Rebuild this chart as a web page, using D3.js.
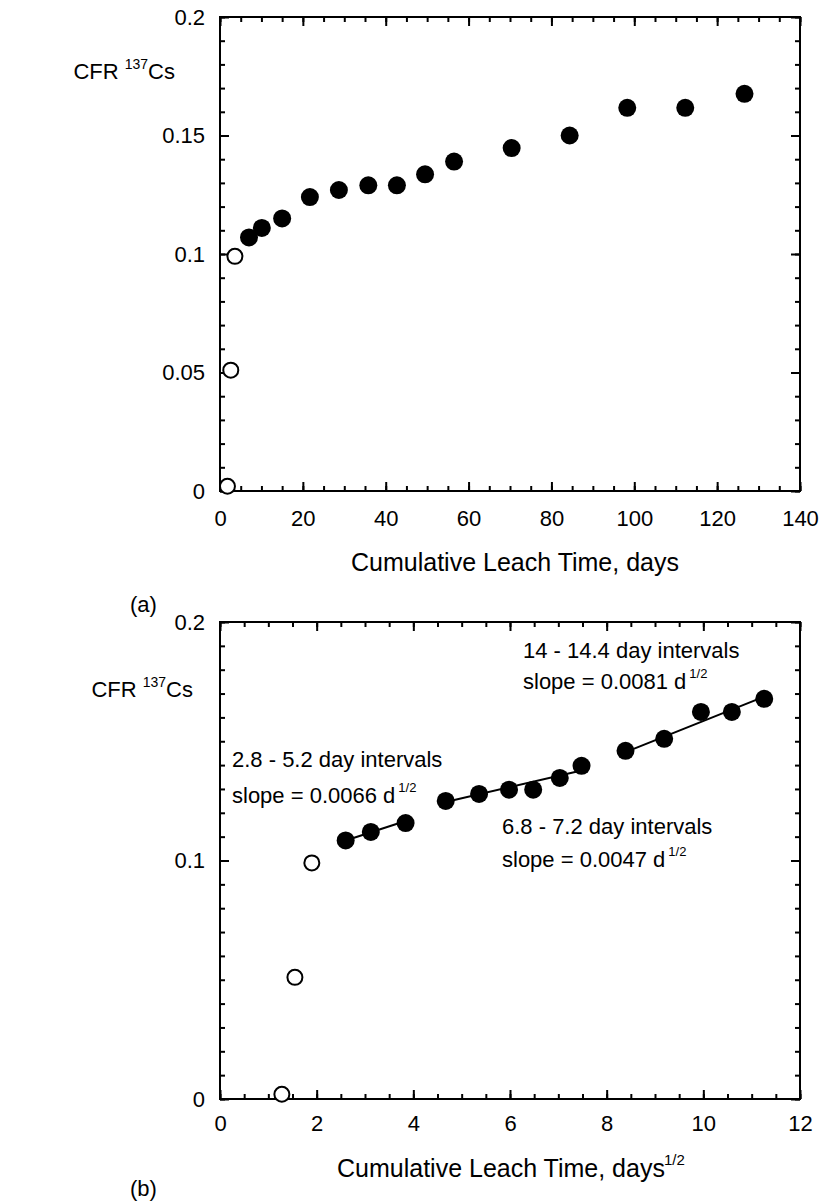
<!DOCTYPE html>
<html>
<head>
<meta charset="utf-8">
<script src="https://cdn.jsdelivr.net/npm/d3@7"></script>
<style>
  html, body { margin: 0; padding: 0; background: #fff; }
  svg { display: block; }
  text { font-family: "Liberation Sans", Arial, sans-serif; fill: #000; }
</style>
</head>
<body>
<div id="chart"></div>
<script>
// (a) CFR vs cumulative leach time, days
const daysOpen = [1.8, 2.6, 3.6];
const cfrOpen = [0.002, 0.051, 0.099];
const daysFilled = [7.0, 10.1, 15.0, 21.7, 28.7, 35.8, 42.7, 49.5, 56.5, 70.4, 84.4, 98.3, 112.3, 126.6];
const cfrFilled = [0.107, 0.111, 0.115, 0.124, 0.127, 0.129, 0.129, 0.1336, 0.139, 0.1447, 0.150, 0.1617, 0.1617, 0.1676];

// (b) CFR vs square root of cumulative leach time, days^1/2
const sqrtOpen = [1.28, 1.55, 1.9];
const sqrtFilled = [2.60, 3.12, 3.84, 4.67, 5.36, 5.98, 6.48, 7.03, 7.48, 8.39, 9.19, 9.95, 10.59, 11.26];
const cfrFilledB = [0.1084, 0.112, 0.1157, 0.125, 0.1279, 0.1297, 0.1297, 0.1346, 0.1397, 0.146, 0.151, 0.1623, 0.1623, 0.1678];

// linear fits on the three interval groups
const fitStart = [2.60, 4.67, 8.39];
const fitEnd = [3.84, 7.48, 11.26];
const fitIntercept = [0.0912, 0.1026, 0.0775];
const fitSlope = [0.0066, 0.0047, 0.0081];
const fitLabels = ["2.8 - 5.2 day intervals", "6.8 - 7.2 day intervals", "14 - 14.4 day intervals"];
const slopeLabels = ["slope = 0.0066 d", "slope = 0.0047 d", "slope = 0.0081 d"];

const xTicksA = [0, 20, 40, 60, 80, 100, 120, 140];
const yTicksA = [0, 0.05, 0.1, 0.15, 0.2];
const xTicksB = [0, 2, 4, 6, 8, 10, 12];
const yTicksB = [0, 0.1, 0.2];

const width = 821;
const height = 1202;

const svg = d3
  .select("#chart")
  .append("svg")
  .attr("width", width)
  .attr("height", height)
  .style("background", "#fff");

/** Draw a framed panel with inward major/minor ticks on all four sides. */
function drawFrame(x, y, opts) {
  const [x0, x1] = x.range();
  const [y0, y1] = y.range();
  const g = svg.append("g");

  const xMinor = d3.range(x.domain()[0], x.domain()[1] + 1e-9, opts.xMinorStep);
  const yMinor = d3.range(y.domain()[0], y.domain()[1] + 1e-9, opts.yMinorStep);

  const addAxis = (axis, transform) => {
    const a = g.append("g").attr("transform", transform).call(axis);
    a.select(".domain").remove();
    a.selectAll("line").attr("stroke", "#000").attr("stroke-width", 2);
    return a;
  };

  // minor ticks
  addAxis(d3.axisBottom(x).tickValues(xMinor).tickSize(-5).tickFormat(""), `translate(0,${y0})`);
  addAxis(d3.axisTop(x).tickValues(xMinor).tickSize(-5).tickFormat(""), `translate(0,${y1})`);
  addAxis(d3.axisLeft(y).tickValues(yMinor).tickSize(-5).tickFormat(""), `translate(${x0},0)`);
  addAxis(d3.axisRight(y).tickValues(yMinor).tickSize(-5).tickFormat(""), `translate(${x1},0)`);

  // major ticks + labels
  const bx = addAxis(
    d3.axisBottom(x).tickValues(opts.xTicks).tickSize(-9).tickPadding(opts.xPad).tickFormat((d) => String(d)),
    `translate(0,${y0})`
  );
  const ly = addAxis(
    d3.axisLeft(y).tickValues(opts.yTicks).tickSize(-9).tickPadding(15).tickFormat((d) => String(d)),
    `translate(${x0},0)`
  );
  addAxis(d3.axisTop(x).tickValues(opts.xTicks).tickSize(-9).tickFormat(""), `translate(0,${y1})`);
  addAxis(d3.axisRight(y).tickValues(opts.yTicks).tickSize(-9).tickFormat(""), `translate(${x1},0)`);

  [bx, ly].forEach((a) =>
    a.selectAll("text").attr("font-size", 22).attr("font-family", "Liberation Sans, Arial, sans-serif").attr("fill", "#000")
  );

  g.append("rect")
    .attr("x", x0)
    .attr("y", y1)
    .attr("width", x1 - x0)
    .attr("height", y0 - y1)
    .attr("fill", "none")
    .attr("stroke", "#000")
    .attr("stroke-width", 2);
  return g;
}

/** "CFR 137Cs" y-axis label with superscript mass number. */
function cfrLabel(xEnd, yBase) {
  const t = svg
    .append("text")
    .attr("x", xEnd)
    .attr("y", yBase)
    .attr("text-anchor", "end")
    .attr("font-size", 22);
  t.append("tspan").text("CFR ");
  t.append("tspan").attr("font-size", 14).attr("dy", -10).text("137");
  t.append("tspan").attr("dy", 10).text("Cs");
}

function drawPoints(x, y, xs, ys, filled) {
  svg
    .append("g")
    .selectAll("circle")
    .data(xs.map((d, i) => [d, ys[i]]))
    .join("circle")
    .attr("cx", (d) => x(d[0]))
    .attr("cy", (d) => y(d[1]))
    .attr("r", filled ? 9 : 7.5)
    .attr("fill", filled ? "#000" : "#fff")
    .attr("stroke", "#000")
    .attr("stroke-width", filled ? 0 : 2);
}

// ---------- panel (a) ----------
const xA = d3.scaleLinear().domain([0, 140]).range([220, 800]);
const yA = d3.scaleLinear().domain([0, 0.2]).range([491, 17]);
drawFrame(xA, yA, { xTicks: xTicksA, yTicks: yTicksA, xMinorStep: 5, yMinorStep: 0.01, xPad: 19 });
cfrLabel(175, 79);
drawPoints(xA, yA, daysFilled, cfrFilled, true);
drawPoints(xA, yA, daysOpen, cfrOpen, false);

svg
  .append("text")
  .attr("x", 515)
  .attr("y", 571)
  .attr("text-anchor", "middle")
  .attr("font-size", 25)
  .text("Cumulative Leach Time, days");

svg
  .append("text")
  .attr("x", 130)
  .attr("y", 612)
  .attr("font-family", "Liberation Serif, Times New Roman, serif")
  .attr("font-size", 22)
  .text("(a)");

// ---------- panel (b) ----------
const xB = d3.scaleLinear().domain([0, 12]).range([220, 800]);
const yB = d3.scaleLinear().domain([0, 0.2]).range([1099, 622]);
drawFrame(xB, yB, { xTicks: xTicksB, yTicks: yTicksB, xMinorStep: 0.5, yMinorStep: 0.01, xPad: 16 });
cfrLabel(193, 697);

svg
  .append("g")
  .selectAll("line")
  .data(fitStart.map((s, i) => ({ s, e: fitEnd[i], b: fitIntercept[i], m: fitSlope[i] })))
  .join("line")
  .attr("x1", (d) => xB(d.s))
  .attr("y1", (d) => yB(d.b + d.m * d.s))
  .attr("x2", (d) => xB(d.e))
  .attr("y2", (d) => yB(d.b + d.m * d.e))
  .attr("stroke", "#000")
  .attr("stroke-width", 2);

drawPoints(xB, yB, sqrtFilled, cfrFilledB, true);
drawPoints(xB, yB, sqrtOpen, cfrOpen, false);

// annotations: [x, interval baseline, slope baseline]
const notePos = [
  [232, 767, 803],
  [502, 834, 867],
  [523, 658, 689],
];
notePos.forEach(([nx, yi, ys], i) => {
  svg.append("text").attr("x", nx).attr("y", yi).attr("font-size", 22).text(fitLabels[i]);
  const t = svg.append("text").attr("x", nx).attr("y", ys).attr("font-size", 22);
  t.append("tspan").text(slopeLabels[i]);
  t.append("tspan").attr("font-size", 13).attr("dx", 3).attr("dy", -11).text("1/2");
});

const titleB = svg
  .append("text")
  .attr("x", 337)
  .attr("y", 1177)
  .attr("font-size", 25);
titleB.append("tspan").text("Cumulative Leach Time, days");
titleB.append("tspan").attr("font-size", 15).attr("dx", -1).attr("dy", -12).text("1/2");

svg
  .append("text")
  .attr("x", 130)
  .attr("y", 1196)
  .attr("font-family", "Liberation Serif, Times New Roman, serif")
  .attr("font-size", 22)
  .text("(b)");
</script>
</body>
</html>
